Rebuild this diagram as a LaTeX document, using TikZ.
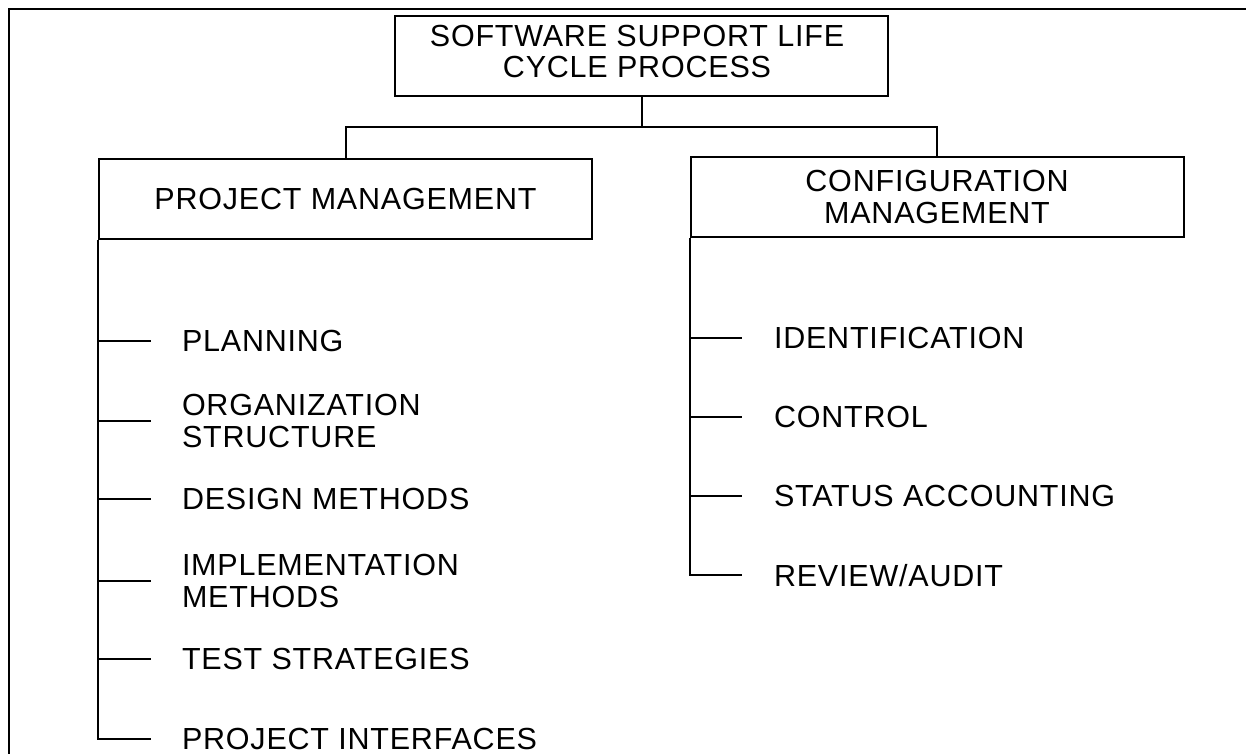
\documentclass[tikz,border=0pt]{standalone}
\usepackage{fontspec}
\setmainfont{Liberation Sans}[LetterSpace=2.6]
\begin{document}
\begin{tikzpicture}[x=1pt,y=-1pt,line width=2pt,
  box/.style={draw, minimum width=493pt, minimum height=80pt, inner sep=0pt},
  txt/.style={font=\fontsize{30.5}{31.5}\selectfont, align=center, inner sep=0pt},
  item/.style={font=\fontsize{30.5}{31.5}\selectfont, align=left, anchor=west, inner sep=0pt, text depth=0pt}]
\useasboundingbox (0,0) rectangle (1246,754);
% outer frame
\draw (9,760) -- (9,9) -- (1250,9);
% boxes
\node[box] (top) at (641.5,56.5) {};
\node[txt] (toptext) at (637,51.5) {SOFTWARE SUPPORT LIFE\\CYCLE PROCESS};
\node[box,txt] (pm) at (345.5,199) {PROJECT MANAGEMENT};
\node[box,txt] (cm) at (937,197) {CONFIGURATION\\MANAGEMENT};
% left items
\node[item] (plan) at (181,341) {PLANNING};
\node[item] (org) at (181,421) {ORGANIZATION\\STRUCTURE};
\node[item] (des) at (181,499) {DESIGN METHODS};
\node[item] (imp) at (181,581) {IMPLEMENTATION\\METHODS};
\node[item] (test) at (181,659) {TEST STRATEGIES};
\node[item] (pint) at (181,739) {PROJECT INTERFACES};
% right items
\node[item] (ident) at (773,338) {IDENTIFICATION};
\node[item] (ctrl) at (773,417) {CONTROL};
\node[item] (stat) at (773,496) {STATUS ACCOUNTING};
\node[item] (rev) at (773,575) {REVIEW/AUDIT};
% connectors
\coordinate (j) at (641.5,127);
\draw (top.south) -- (j);
\draw (pm.north) |- (j) -| (cm.north);
\draw (pm.south west) |- ([xshift=-30pt]pint.west);
\foreach \n in {plan,org,des,imp,test}
  \draw (pm.south west |- \n.west) -- ([xshift=-30pt]\n.west);
\draw (cm.south west) |- ([xshift=-31pt]rev.west);
\foreach \n in {ident,ctrl,stat}
  \draw (cm.south west |- \n.west) -- ([xshift=-31pt]\n.west);
\end{tikzpicture}
\end{document}
